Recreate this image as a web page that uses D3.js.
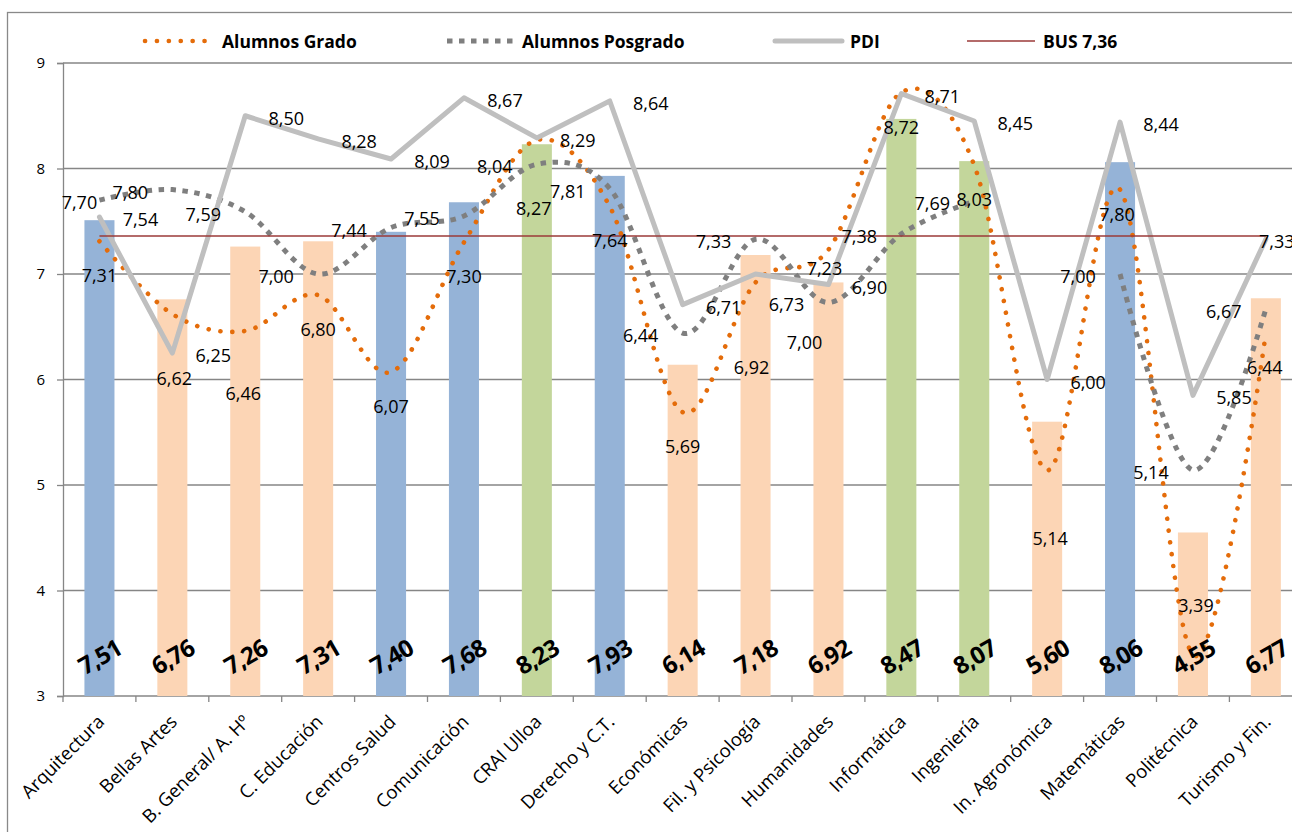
<!DOCTYPE html>
<html>
<head>
<meta charset="utf-8">
<script src="https://cdn.jsdelivr.net/npm/d3@7"></script>
<style>
  body { margin: 0; background: #fff; }
  svg { display: block; }
  text { font-family: "Open Sans", "DejaVu Sans", sans-serif; fill: #000; }
</style>
</head>
<body>
<svg id="chart" width="1292" height="832"></svg>
<script>
// ---- data ----
const categories = ["Arquitectura", "Bellas Artes", "B. General/ A. Hº", "C. Educación", "Centros Salud",
  "Comunicación", "CRAI Ulloa", "Derecho y C.T.", "Económicas", "Fil. y Psicología", "Humanidades",
  "Informática", "Ingeniería", "In. Agronómica", "Matemáticas", "Politécnica", "Turismo y Fin."];
const barValues = [7.51, 6.76, 7.26, 7.31, 7.40, 7.68, 8.23, 7.93, 6.14, 7.18, 6.92, 8.47, 8.07, 5.60, 8.06, 4.55, 6.77];
const barGroups = [0, 1, 1, 1, 0, 0, 2, 0, 1, 1, 1, 2, 2, 1, 0, 1, 1];
const alumnosGrado = [7.31, 6.62, 6.46, 6.80, 6.07, 7.30, 8.27, 7.64, 5.69, 6.92, 7.23, 8.72, 8.03, 5.14, 7.80, 3.39, 6.44];
const alumnosPosgrado = [7.70, 7.80, 7.59, 7.00, 7.44, 7.55, 8.04, 7.81, 6.44, 7.33, 6.73, 7.38, 7.69, null, 7.00, 5.14, 6.67];
const pdi = [7.54, 6.25, 8.50, 8.28, 8.09, 8.67, 8.29, 8.64, 6.71, 7.00, 6.90, 8.71, 8.45, 6.00, 8.44, 5.85, 7.33];
const busValue = 7.36;
const yTicks = [3, 4, 5, 6, 7, 8, 9];
const legendLabels = ["Alumnos Grado", "Alumnos Posgrado", "PDI", "BUS 7,36"];

// ---- layout ----
const plot = { left: 63, top: 63, bottom: 696, right: 1302.3 };
const barColors = ["#95B3D7", "#FCD5B5", "#C3D69B"];
const gridColor = "#868686";

// data-label placement per series: default offset plus individual adjustments
const labelLayout = {
  grado:    { dx: 0,   dy: 34, adjust: { 1: [2, 64], 2: [-2, 62], 6: [-3, 68], 9: [-4, 85], 10: [-4, 18], 13: [3, 68], 14: [-3, 24], 15: [3, -50], 16: [-1, 34] } },
  posgrado: { dx: -42, dy: 2,  adjust: { 0: [-20, 2], 15: [-42, 2] } },
  pdi:      { dx: 41,  dy: 2,  adjust: { 9: [49, 68], 16: [11, 2] } }
};

const svg = d3.select("#chart");

const x = d3.scaleBand()
  .domain(categories)
  .range([plot.left, plot.right])
  .paddingInner(0.588)
  .paddingOuter(0.294);
const cx = c => x(c) + x.bandwidth() / 2;
const y = d3.scaleLinear().domain([3, 9]).range([plot.bottom, plot.top]);
const fmt = v => d3.format(".2f")(v).replace(".", ",");

// chart frame
svg.append("rect")
  .attr("x", 7.5).attr("y", 12.5)
  .attr("width", 1400).attr("height", 900)
  .attr("fill", "none").attr("stroke", "#898989").attr("stroke-width", 1.3);

// horizontal gridlines
svg.append("g").selectAll("line").data(yTicks).join("line")
  .attr("x1", plot.left).attr("x2", plot.right)
  .attr("y1", d => y(d)).attr("y2", d => y(d))
  .attr("stroke", gridColor).attr("stroke-width", 1.3);

// y axis
const yAxis = svg.append("g")
  .attr("transform", `translate(${plot.left},0)`)
  .call(d3.axisLeft(y).tickValues(yTicks).tickSize(6).tickPadding(12).tickFormat(d3.format("d")));
yAxis.select(".domain").attr("stroke", gridColor).attr("stroke-width", 1.3);
yAxis.selectAll(".tick line").attr("stroke", gridColor).attr("stroke-width", 1.3);
yAxis.selectAll(".tick text").attr("font-size", 15).attr("font-family", "Open Sans").attr("fill", "#000");

// category tick marks on the band boundaries
const boundaries = categories.map(c => cx(c) - x.step() / 2).concat([cx(categories[categories.length - 1]) + x.step() / 2]);
svg.append("g").selectAll("line").data(boundaries).join("line")
  .attr("x1", d => d).attr("x2", d => d)
  .attr("y1", plot.bottom).attr("y2", plot.bottom + 6)
  .attr("stroke", gridColor).attr("stroke-width", 1.3);

// category labels
svg.append("g").selectAll("text").data(categories).join("text")
  .attr("transform", d => `translate(${cx(d) + 6},${plot.bottom + 27}) rotate(-45)`)
  .attr("text-anchor", "end")
  .attr("font-size", 18.5)
  .text(d => d);

// bars
svg.append("g").selectAll("rect").data(categories).join("rect")
  .attr("x", d => x(d))
  .attr("width", x.bandwidth())
  .attr("y", (d, i) => y(barValues[i]))
  .attr("height", (d, i) => y(3) - y(barValues[i]))
  .attr("fill", (d, i) => barColors[barGroups[i]]);

// series lines
const smooth = d3.line()
  .defined(d => d.v != null)
  .x(d => cx(d.c)).y(d => y(d.v))
  .curve(d3.curveCardinal.tension(0));
const straight = d3.line()
  .x(d => cx(d.c)).y(d => y(d.v));
const pts = arr => categories.map((c, i) => ({ c, v: arr[i], i }));

const gradoStyle = { stroke: "#E46C0A", width: 4.6, dash: "0.1 11.8", cap: "round" };
const posgradoStyle = { stroke: "#7F7F7F", width: 5, dash: "5.5 6.5", cap: "butt" };
const pdiStyle = { stroke: "#BFBFBF", width: 5, dash: null, cap: "round" };
const busStyle = { stroke: "#9B3A38", width: 1.6, dash: null, cap: "butt" };

function drawPath(d, s) {
  svg.append("path")
    .attr("d", d)
    .attr("fill", "none")
    .attr("stroke", s.stroke)
    .attr("stroke-width", s.width)
    .attr("stroke-dasharray", s.dash)
    .attr("stroke-linecap", s.cap)
    .attr("stroke-linejoin", "round");
}
drawPath(smooth(pts(alumnosGrado)), gradoStyle);
drawPath(smooth(pts(alumnosPosgrado)), posgradoStyle);
drawPath(straight(pts(pdi)), pdiStyle);
drawPath(straight(categories.map(c => ({ c, v: busValue }))), busStyle);

// value labels of the lines
function drawLabels(arr, layout) {
  svg.append("g").selectAll("text").data(pts(arr).filter(d => d.v != null)).join("text")
    .attr("x", d => cx(d.c) + (layout.adjust[d.i] ? layout.adjust[d.i][0] : layout.dx))
    .attr("y", d => y(d.v) + (layout.adjust[d.i] ? layout.adjust[d.i][1] : layout.dy))
    .attr("text-anchor", "middle")
    .attr("dominant-baseline", "central")
    .attr("font-size", 18)
    .text(d => fmt(d.v));
}
drawLabels(alumnosGrado, labelLayout.grado);
drawLabels(alumnosPosgrado, labelLayout.posgrado);
drawLabels(pdi, labelLayout.pdi);

// bar value labels at the base
svg.append("g").selectAll("text").data(categories).join("text")
  .attr("transform", d => `translate(${cx(d)},${plot.bottom - 40}) rotate(-30)`)
  .attr("text-anchor", "middle")
  .attr("dominant-baseline", "central")
  .attr("font-size", 24)
  .attr("font-weight", "bold")
  .attr("letter-spacing", -0.8)
  .text((d, i) => fmt(barValues[i]));

// legend
const legendItems = [
  { label: legendLabels[0], style: gradoStyle, x0: 145, x1: 209, tx: 222 },
  { label: legendLabels[1], style: posgradoStyle, x0: 447, x1: 513, tx: 522 },
  { label: legendLabels[2], style: pdiStyle, x0: 775, x1: 842, tx: 850 },
  { label: legendLabels[3], style: busStyle, x0: 967, x1: 1035, tx: 1043 }
];
const legend = svg.append("g");
legendItems.forEach(it => {
  legend.append("line")
    .attr("x1", it.x0).attr("x2", it.x1).attr("y1", 41).attr("y2", 41)
    .attr("stroke", it.style.stroke)
    .attr("stroke-width", it.style.width)
    .attr("stroke-dasharray", it.style.dash)
    .attr("stroke-linecap", it.style.cap);
  legend.append("text")
    .attr("x", it.tx).attr("y", 41)
    .attr("dominant-baseline", "central")
    .attr("font-size", 17.5)
    .attr("font-weight", "bold")
    .text(it.label);
});
</script>
</body>
</html>
